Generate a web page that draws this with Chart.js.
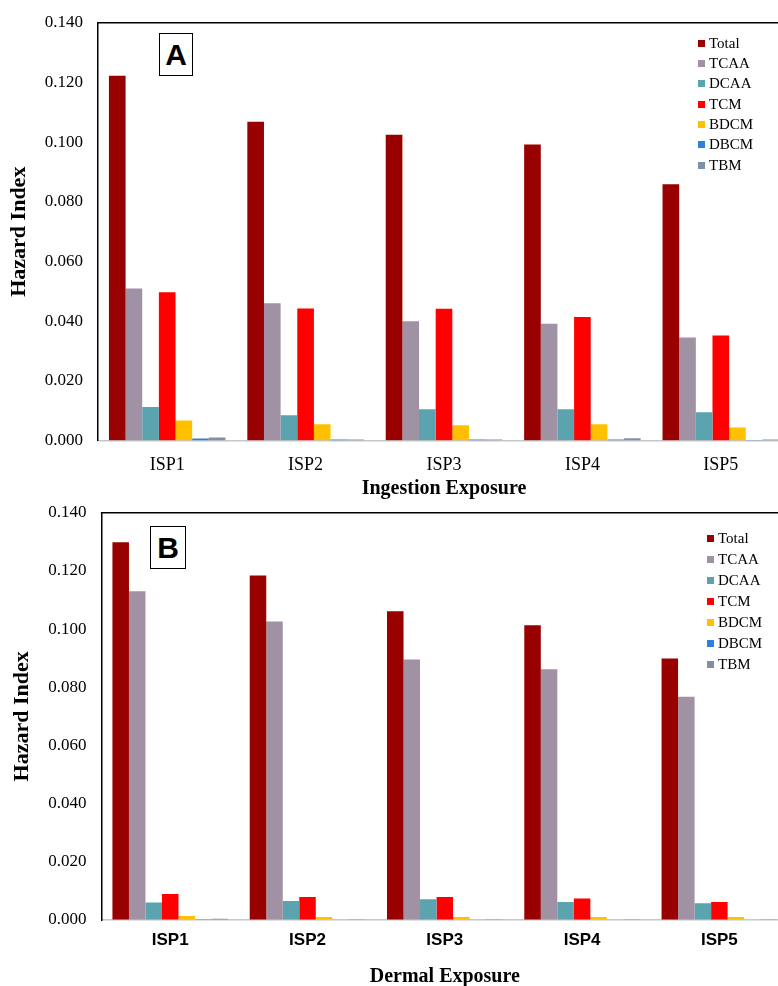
<!DOCTYPE html>
<html>
<head>
<meta charset="utf-8">
<title>Hazard Index – Ingestion and Dermal Exposure</title>
<script src="https://cdn.jsdelivr.net/npm/chart.js@4/dist/chart.umd.min.js"></script>
<style>
  html, body { margin: 0; padding: 0; background: #fff; }
  body { width: 778px; height: 986px; overflow: hidden; position: relative; }
  .panel { position: absolute; left: 0; }
  .tag {
    position: absolute; box-sizing: border-box; border: 1.5px solid #000; background: #fff;
    font: bold 30px "Liberation Sans", Arial, sans-serif; color: #000;
    display: flex; align-items: center; justify-content: center;
  }
  .legend { position: absolute; font: 15px "Liberation Serif", "Times New Roman", serif; color: #000; }
  .legend .row { position: absolute; left: 0; height: 16px; display: flex; align-items: center; white-space: nowrap; }
  .legend .sw { width: 7px; height: 7px; margin-right: 4px; flex: none; }
</style>
</head>
<body>
<canvas id="chartA" class="panel" width="790" height="500" style="top:0"></canvas>
<canvas id="chartB" class="panel" width="788" height="486" style="top:500px"></canvas>
<div class="tag" style="left:159px;top:33px;width:34px;height:43px;">A</div>
<div class="tag" style="left:150px;top:526px;width:36px;height:43px;">B</div>
<div class="legend" id="legendA" style="left:698px;top:0"></div>
<div class="legend" id="legendB" style="left:707px;top:0"></div>
<script>
// Sampling points and compounds
const sites = ['ISP1', 'ISP2', 'ISP3', 'ISP4', 'ISP5'];
const compounds = ['Total', 'TCAA', 'DCAA', 'TCM', 'BDCM', 'DBCM', 'TBM'];
const compoundColors = ['#990000', '#A092A4', '#5BA3AE', '#FF0000', '#FFC000', '#2E80DA', '#8090AA'];
const yTickLabels = ['0.000', '0.020', '0.040', '0.060', '0.080', '0.100', '0.120', '0.140'];

// Hazard index – ingestion exposure
const ingTotal = [0.1222, 0.1068, 0.1025, 0.0992, 0.0859];
const ingTCAA  = [0.0510, 0.0460, 0.0400, 0.0392, 0.0346];
const ingDCAA  = [0.0113, 0.0085, 0.0105, 0.0105, 0.0095];
const ingTCM   = [0.0497, 0.0443, 0.0442, 0.0414, 0.0352];
const ingBDCM  = [0.0068, 0.0055, 0.0052, 0.0055, 0.0044];
const ingDBCM  = [0.0007, 0.0004, 0.0004, 0.0004, 0.0002];
const ingTBM   = [0.0011, 0.0004, 0.0004, 0.0008, 0.0004];

// Hazard index – dermal exposure
const derTotal = [0.1298, 0.1184, 0.1061, 0.1013, 0.0899];
const derTCAA  = [0.1130, 0.1026, 0.0895, 0.0862, 0.0767];
const derDCAA  = [0.0060, 0.0065, 0.0071, 0.0062, 0.0058];
const derTCM   = [0.0089, 0.0079, 0.0079, 0.0074, 0.0062];
const derBDCM  = [0.0014, 0.0010, 0.0010, 0.0010, 0.0010];
const derDBCM  = [0.0001, 0.0000, 0.0000, 0.0000, 0.0000];
const derTBM   = [0.0004, 0.0001, 0.0001, 0.0001, 0.0001];

const SERIF = '"Liberation Serif", "Times New Roman", serif';
const SANS = '"Liberation Sans", Arial, sans-serif';

// Top edge of the plot frame
const frameTop = {
  id: 'frameTop',
  afterDraw(chart) {
    const { ctx, chartArea } = chart;
    ctx.save();
    ctx.strokeStyle = '#000';
    ctx.lineWidth = 1.5;
    ctx.beginPath();
    ctx.moveTo(chartArea.left - 0.75, chartArea.top);
    ctx.lineTo(chartArea.right, chartArea.top);
    ctx.stroke();
    ctx.restore();
  }
};

function buildDatasets(series) {
  return compounds.map((name, i) => ({
    label: name,
    data: series[i],
    backgroundColor: compoundColors[i],
    borderWidth: 0,
    categoryPercentage: 0.842,
    barPercentage: 1.0
  }));
}

function makeChart(canvasId, series, cfg) {
  return new Chart(document.getElementById(canvasId), {
    type: 'bar',
    data: { labels: sites, datasets: buildDatasets(series) },
    plugins: [frameTop],
    options: {
      responsive: false,
      devicePixelRatio: 1,
      animation: false,
      layout: { padding: { top: cfg.padTop, right: 0, bottom: 0, left: 0 } },
      plugins: { legend: { display: false }, tooltip: { enabled: false } },
      scales: {
        x: {
          grid: { display: false, drawTicks: false },
          border: { display: true, color: '#c8c8c8', width: 1.5 },
          ticks: { color: '#000', font: cfg.xTickFont, padding: cfg.xTickPad, maxRotation: 0 },
          title: {
            display: true, text: cfg.xTitle, color: '#000',
            font: { family: SERIF, size: 20, weight: 'bold', lineHeight: 1 },
            padding: { top: 0, bottom: cfg.xTitlePad }
          },
          afterFit(s) { s.height = cfg.xHeight; }
        },
        y: {
          min: 0, max: 0.14,
          // invisible tick marks give the gap between labels and the axis line
          grid: { display: true, drawOnChartArea: false, drawTicks: true, tickLength: 15, color: 'rgba(0,0,0,0)' },
          border: { display: true, color: '#000', width: 1.5 },
          ticks: {
            stepSize: 0.02, color: '#000', padding: 0,
            font: { family: SERIF, size: 17 },
            callback: (v, i) => yTickLabels[i]
          },
          title: {
            display: true, text: 'Hazard Index', color: '#000',
            font: { family: SERIF, size: 22, weight: 'bold', lineHeight: 1 },
            padding: { top: cfg.yTitlePad, bottom: 0 }
          },
          afterFit(s) { s.width = cfg.yWidth; }
        }
      }
    }
  });
}

makeChart('chartA',
  [ingTotal, ingTCAA, ingDCAA, ingTCM, ingBDCM, ingDBCM, ingTBM],
  {
    padTop: 22.7, xHeight: 59.3, yWidth: 98, yTitlePad: 8, xTitlePad: 1,
    xTickFont: { family: SERIF, size: 18 }, xTickPad: 14,
    xTitle: 'Ingestion Exposure'
  });

makeChart('chartB',
  [derTotal, derTCAA, derDCAA, derTCM, derBDCM, derDBCM, derTBM],
  {
    padTop: 12.7, xHeight: 66, yWidth: 101.6, yTitlePad: 11, xTitlePad: -1,
    xTickFont: { family: SANS, size: 17, weight: 'bold' }, xTickPad: 10,
    xTitle: 'Dermal Exposure'
  });

// Legends placed inside each plot, top right
function buildLegend(id, firstY, step) {
  const box = document.getElementById(id);
  compounds.forEach((name, i) => {
    const row = document.createElement('div');
    row.className = 'row';
    row.style.top = (firstY + step * i - 8) + 'px';
    const sw = document.createElement('span');
    sw.className = 'sw';
    sw.style.background = compoundColors[i];
    const txt = document.createElement('span');
    txt.textContent = name;
    row.appendChild(sw);
    row.appendChild(txt);
    box.appendChild(row);
  });
}
buildLegend('legendA', 43.3, 20.3);
buildLegend('legendB', 538.3, 21);
</script>
</body>
</html>
